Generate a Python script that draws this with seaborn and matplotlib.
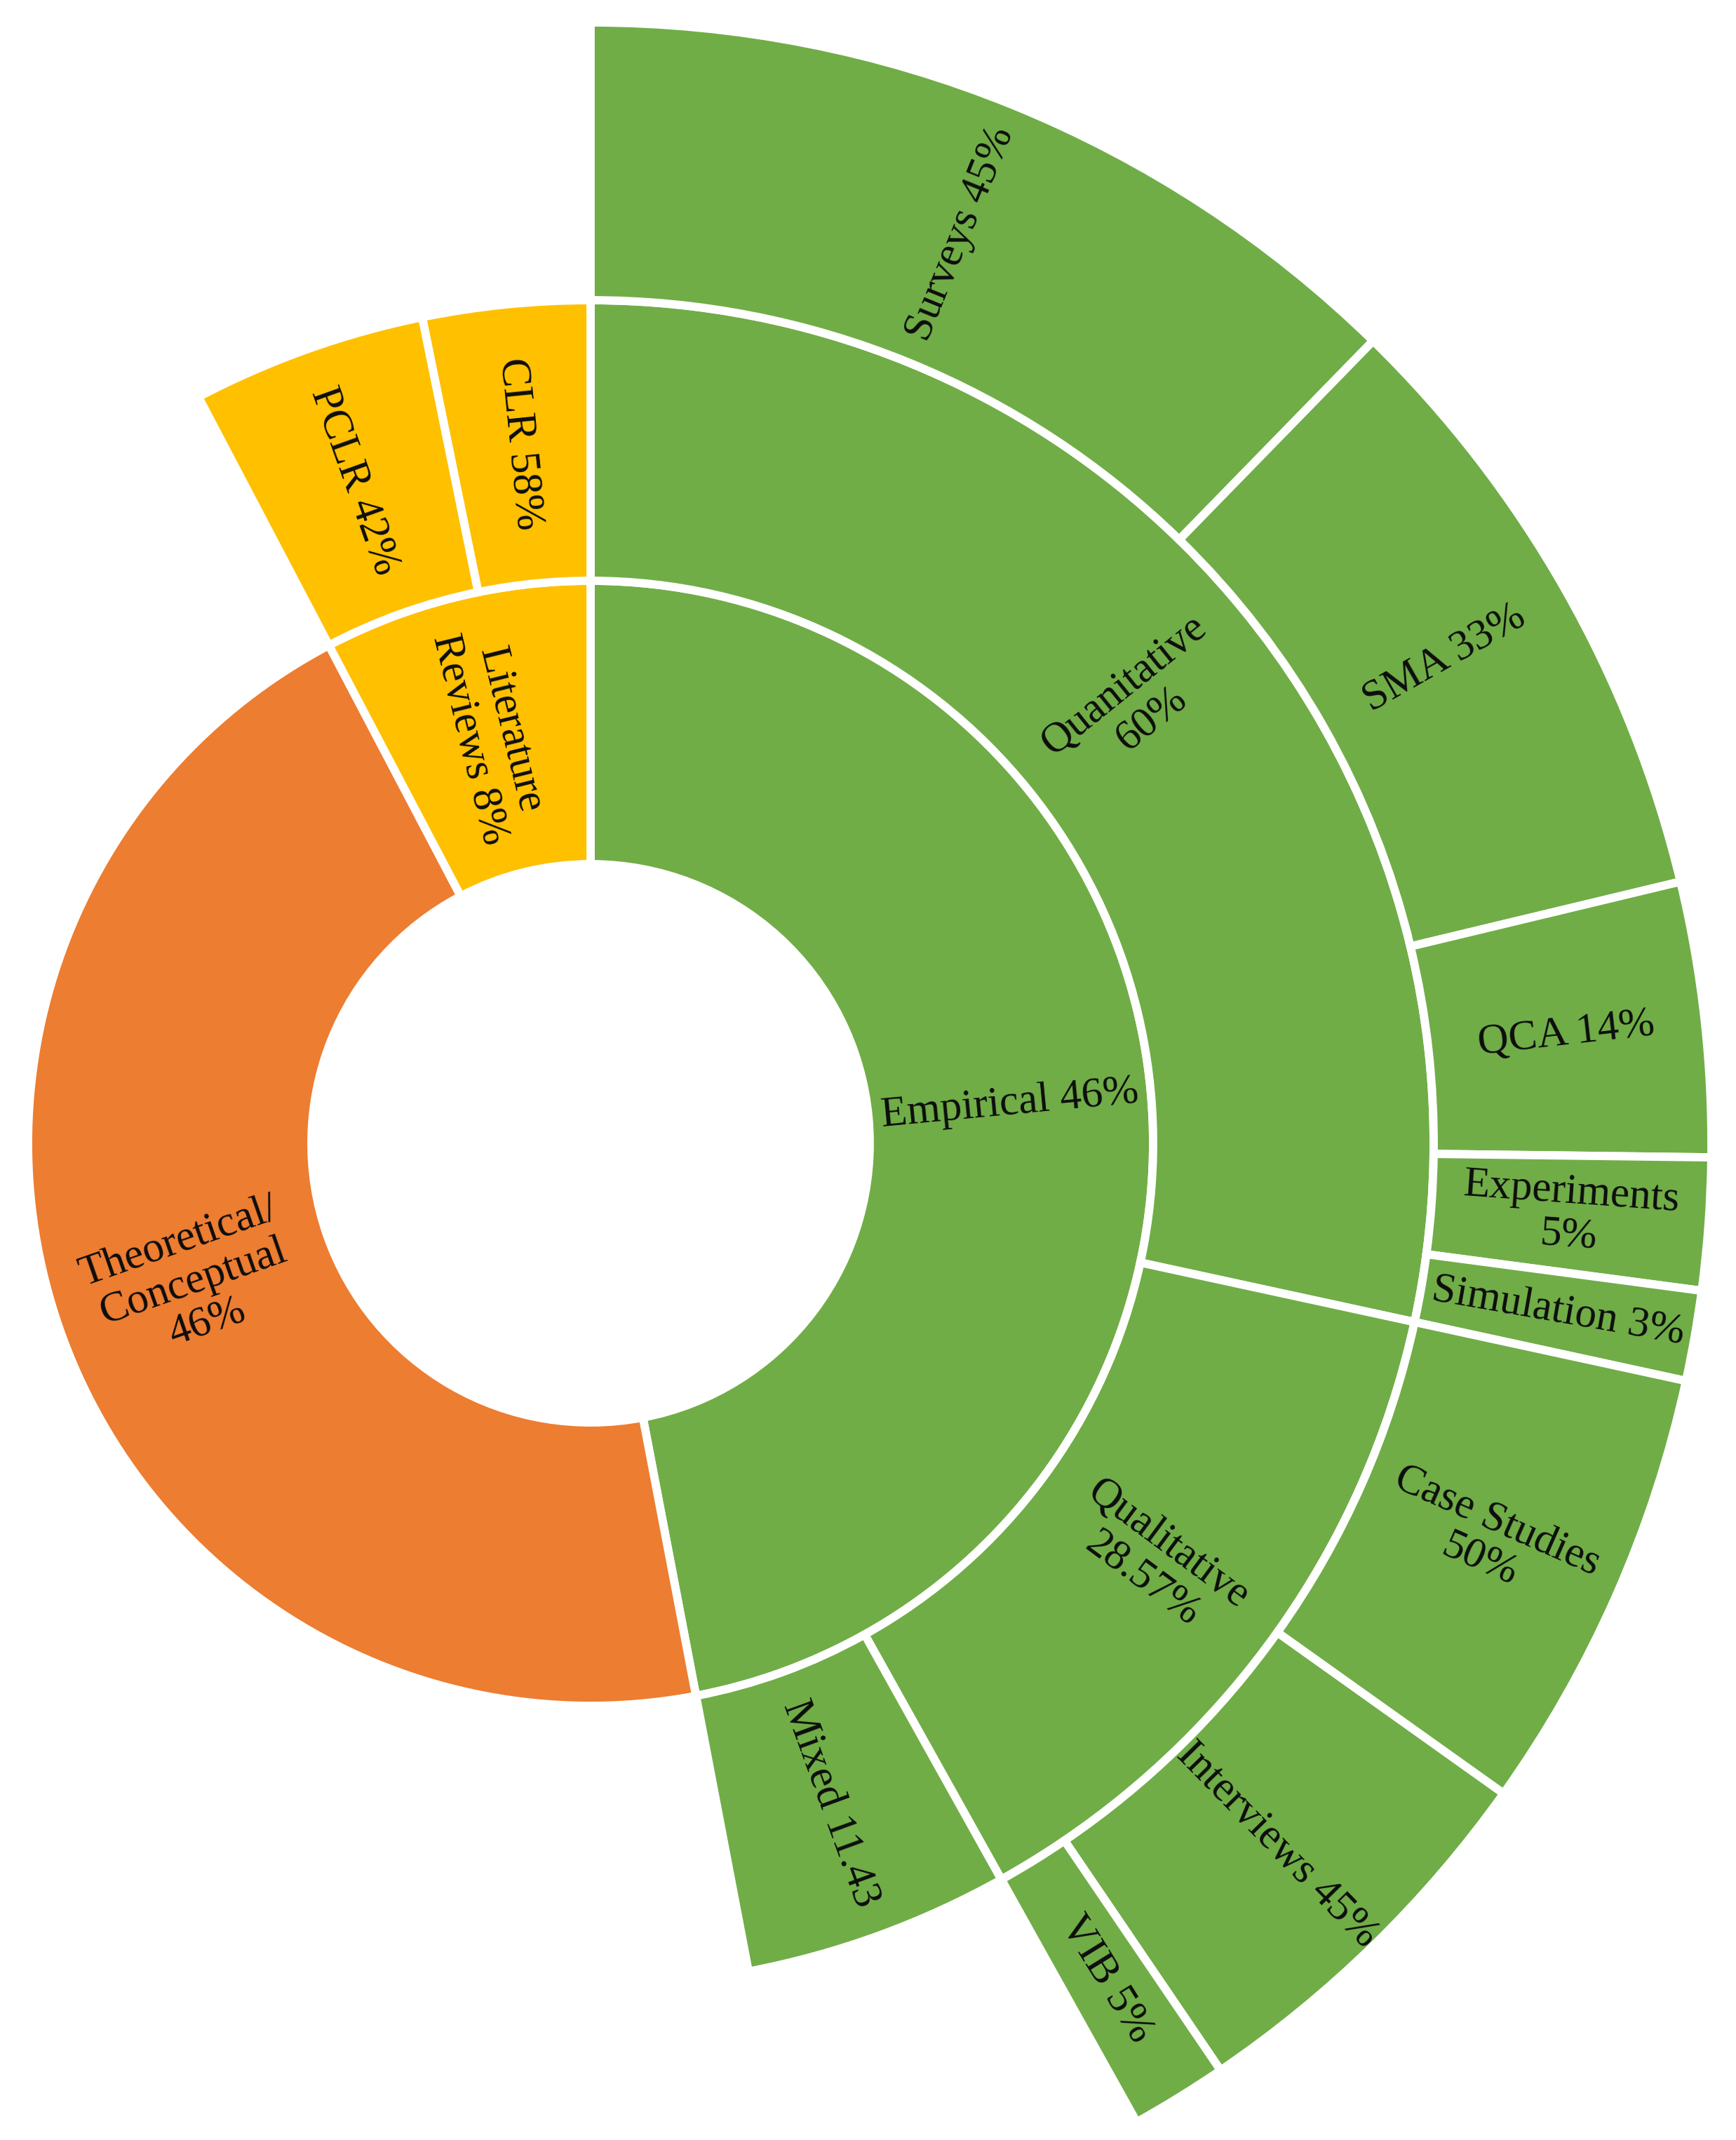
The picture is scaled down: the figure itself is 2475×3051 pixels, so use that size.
import numpy as np
import matplotlib
matplotlib.use("Agg")
import matplotlib.pyplot as plt
import seaborn as sns

# ring 1 (inner): share of the full circle, in %
ring1_names = ["Empirical", "Theoretical", "Literature"]
ring1_labels = ["Empirical 46%", "Theoretical/\nConceptual\n46%", "Literature\nReviews 8%"]
ring1_values = [47.0, 45.3, 7.7]

# ring 2 (middle): share of the full circle, in %
ring2_names = ["Quantitative", "Qualitative", "Mixed", "PCLR", "CLR"]
ring2_parents = ["Empirical", "Empirical", "Empirical", "Literature", "Literature"]
ring2_labels = ["Quanitative\n60%", "Qualitative\n28.57%", "Mixed 11.43", "PCLR 42%", "CLR 58%"]
ring2_values = [28.4, 13.5, 5.1, 4.5, 3.2]

# ring 3 (outer): share of the full circle, in %
ring3_parents = ["Quantitative"] * 5 + ["Qualitative"] * 3
ring3_labels = ["Surveys 45%", "SMA 33%", "QCA 14%", "Experiments\n5%", "Simulation 3%",
                "Case Studies\n50%", "Interviews 45%", "VIB 5%"]
ring3_values = [12.3, 8.95, 3.95, 1.9, 1.3, 6.45, 5.65, 1.4]

group_colors = {"Empirical": "#70AD47", "Theoretical": "#ED7D31", "Literature": "#FFC000"}

sns.set_theme(style="white")
plt.rcParams["font.family"] = ["Liberation Serif", "DejaVu Serif"]

W, H = 2475, 3051
cx, cy = 842, 1630          # centre in pixels (from top)
R_AX = 1650                 # radius of the polar axes in pixels
edges = [398, 802, 1202, 1598]

fig = plt.figure(figsize=(W / 100, H / 100), dpi=100)
ax = fig.add_axes([(cx - R_AX) / W, (H - cy - R_AX) / H, 2 * R_AX / W, 2 * R_AX / H],
                  projection="polar")
ax.set_theta_zero_location("N")
ax.set_theta_direction(-1)
ax.set_ylim(0, R_AX)
ax.set_axis_off()


def label_rotation(mid_deg):
    rot = 90 - mid_deg
    while rot <= -90:
        rot += 180
    while rot > 90:
        rot -= 180
    return rot


def draw_ring(starts, values, colors, labels, level):
    theta0 = np.deg2rad(np.array(starts) * 3.6)
    widths = np.deg2rad(np.array(values) * 3.6)
    inner, outer = edges[level], edges[level + 1]
    ax.bar(theta0, outer - inner, width=widths, bottom=inner, align="edge",
           color=colors, edgecolor="white", linewidth=8.5)
    for t, w, lab in zip(theta0, widths, labels):
        mid = t + w / 2
        ax.text(mid, (inner + outer) / 2, lab, rotation=label_rotation(np.rad2deg(mid)),
                rotation_mode="anchor", ha="center", va="center", multialignment="center",
                fontsize=44, color="#0d0d0d", linespacing=1.12)


# ring 1
start = 0.0
group_start = {}
starts1 = []
for name, v in zip(ring1_names, ring1_values):
    group_start[name] = start
    starts1.append(start)
    start += v
draw_ring(starts1, ring1_values, [group_colors[n] for n in ring1_names], ring1_labels, 0)

# ring 2
offset = dict(group_start)
starts2, top_group = [], {}
for name, parent, v in zip(ring2_names, ring2_parents, ring2_values):
    starts2.append(offset[parent])
    group_start[name] = offset[parent]
    top_group[name] = parent
    offset[parent] += v
draw_ring(starts2, ring2_values, [group_colors[p] for p in ring2_parents], ring2_labels, 1)

# ring 3
offset = dict(group_start)
starts3 = []
for parent, v in zip(ring3_parents, ring3_values):
    starts3.append(offset[parent])
    offset[parent] += v
draw_ring(starts3, ring3_values, [group_colors[top_group[p]] for p in ring3_parents],
          ring3_labels, 2)

fig.savefig("out.png", dpi=100, facecolor="white")
